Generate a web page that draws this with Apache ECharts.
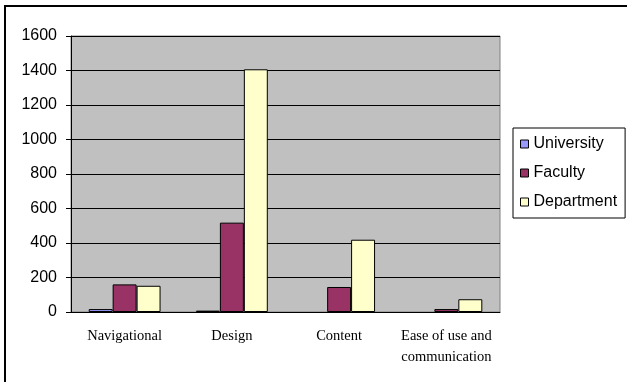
<!DOCTYPE html>
<html lang="en">
<head>
<meta charset="UTF-8">
<title>Bar chart</title>
<style>
    * { margin: 0; padding: 0; }
    #chart { width: 627px; height: 382px; background: #fff; }
</style>
<script src="https://cdn.jsdelivr.net/npm/echarts@6/dist/echarts.min.js"></script>
</head>
<body>
<div id="chart"></div>
<script>
var categories = ['Navigational', 'Design', 'Content', 'Ease of use and\ncommunication'];
var university = [17, 8, 0, 0];
var faculty = [160, 518, 145, 17];
var department = [152, 1407, 419, 74];
var yTicks = [0, 200, 400, 600, 800, 1000, 1200, 1400, 1600];

var chart = echarts.init(document.getElementById('chart'));

function barSeries(name, values, color) {
    return {
        name: name,
        type: 'bar',
        // zero bars get no outline so they stay invisible, as in the original
        data: values.map(function (v) {
            return v === 0 ? { value: v, itemStyle: { borderWidth: 0 } } : v;
        }),
        barGap: 0,
        barCategoryGap: '33%',
        itemStyle: { color: color, borderColor: '#000', borderWidth: 1 }
    };
}

var option = {
    animation: false,
    graphic: [{ // outer frame, right and bottom fall outside the picture
        type: 'rect',
        shape: { x: 5, y: 6, width: 700, height: 500 },
        style: { fill: 'none', stroke: '#000', lineWidth: 2 }
    }],
    grid: {
        left: 71, top: 36, right: 127, bottom: 70,
        show: true,
        backgroundColor: '#C0C0C0',
        borderColor: '#808080',
        borderWidth: 1
    },
    legend: {
        orient: 'vertical',
        left: 513, top: 128,
        width: 100,
        padding: [8, 8, 8, 7],
        icon: 'rect',
        itemWidth: 8, itemHeight: 8,
        itemGap: 13,
        backgroundColor: '#fff',
        borderColor: '#000',
        borderWidth: 1,
        itemStyle: { borderColor: '#000', borderWidth: 1 },
        textStyle: { fontFamily: 'Liberation Sans', fontSize: 16, color: '#000' },
        data: ['University', 'Faculty', 'Department']
    },
    xAxis: {
        type: 'category',
        data: categories,
        axisLine: { lineStyle: { color: '#000' } },
        axisTick: { length: 5, lineStyle: { color: '#000' } },
        axisLabel: {
            margin: 14,
            color: '#000',
            fontFamily: 'Liberation Serif',
            fontSize: 14.5,
            lineHeight: 21,
            interval: 0
        }
    },
    yAxis: {
        type: 'value',
        min: yTicks[0],
        max: yTicks[yTicks.length - 1],
        interval: yTicks[1] - yTicks[0],
        axisLine: { show: true, lineStyle: { color: '#000' } },
        axisTick: { show: true, length: 5, lineStyle: { color: '#000' } },
        splitLine: { lineStyle: { color: '#000' } },
        axisLabel: {
            margin: 14,
            color: '#000',
            fontFamily: 'Liberation Sans',
            fontSize: 16,
            formatter: function (v) { return String(v); }
        }
    },
    series: [
        barSeries('University', university, '#9999FF'),
        barSeries('Faculty', faculty, '#993366'),
        barSeries('Department', department, '#FFFFCC')
    ]
};
chart.setOption(option);
</script>
</body>
</html>
